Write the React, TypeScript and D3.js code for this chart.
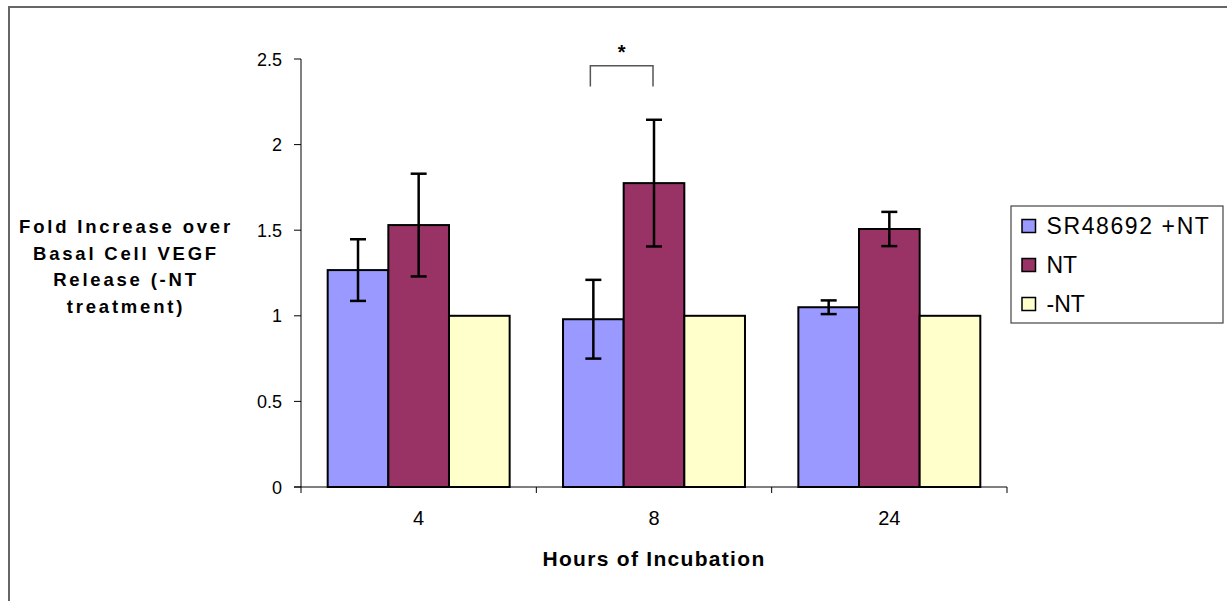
import React from "react";
import * as d3 from "d3";

const categories = ["4", "8", "24"];
const seriesNames = ["SR48692 +NT", "NT", "-NT"];
const seriesColors = ["#9999FF", "#993366", "#FFFFCC"];
const sr48692Values = [1.267, 0.98, 1.05];
const sr48692Errors = [0.18, 0.23, 0.04];
const ntValues = [1.53, 1.775, 1.507];
const ntErrors = [0.3, 0.37, 0.1];
const minusNtValues = [1.0, 1.0, 1.0];
const minusNtErrors = [0, 0, 0];
const yTicks = [0, 0.5, 1, 1.5, 2, 2.5];
const yTitleLines = ["Fold Increase over", "Basal Cell VEGF", "Release (-NT", "treatment)"];
const xTitle = "Hours of Incubation";
const sigCategory = "8";
const sigFrom = "SR48692 +NT";
const sigTo = "NT";
const sigTop = 2.46;
const sigLeg = 2.34;
const sigStarValue = 2.57;

const values = [sr48692Values, ntValues, minusNtValues];
const errors = [sr48692Errors, ntErrors, minusNtErrors];

const FONT = "'Liberation Sans', Arial, sans-serif";

export default function App() {
  const W = 1227;
  const H = 601;
  const x0 = d3.scaleBand<string>().domain(categories).range([301, 1007]).padding(0);
  const x1 = d3
    .scaleBand<string>()
    .domain(seriesNames)
    .range([0, x0.bandwidth()])
    .paddingInner(0)
    .paddingOuter(0.44);
  const y = d3.scaleLinear().domain([0, 2.5]).range([487, 59]);

  const bars: any[] = [];
  const errs: any[] = [];
  categories.forEach((c, ci) => {
    seriesNames.forEach((s, si) => {
      const v = values[si][ci];
      const e = errors[si][ci];
      const bx = (x0(c) as number) + (x1(s) as number);
      bars.push(
        <rect
          key={`b-${ci}-${si}`}
          x={bx}
          y={y(v)}
          width={x1.bandwidth()}
          height={y(0) - y(v)}
          fill={seriesColors[si]}
          stroke="#000"
          strokeWidth={2}
        />
      );
      if (e > 0) {
        const cx = bx + x1.bandwidth() / 2;
        errs.push(
          <g key={`e-${ci}-${si}`} stroke="#000" strokeWidth={2.5}>
            <line x1={cx} x2={cx} y1={y(v + e)} y2={y(v - e)} />
            <line x1={cx - 8} x2={cx + 8} y1={y(v + e)} y2={y(v + e)} />
            <line x1={cx - 8} x2={cx + 8} y1={y(v - e)} y2={y(v - e)} />
          </g>
        );
      }
    });
  });

  const sx1 = (x0(sigCategory) as number) + (x1(sigFrom) as number) + x1.bandwidth() / 2 - 3;
  const sx2 = (x0(sigCategory) as number) + (x1(sigTo) as number) + x1.bandwidth() / 2 - 1;

  const plotLeft = x0.range()[0];
  const plotRight = x0.range()[1];

  return (
    <svg
      width={W}
      height={H}
      style={{ position: "fixed", left: 0, top: 0, background: "#fff" }}
      fontFamily={FONT}
    >
      <rect x={0} y={0} width={W} height={H} fill="#fff" />
      <rect x={9} y={7} width={W + 20} height={H + 20} fill="none" stroke="#666" strokeWidth={2} />

      {bars}
      {errs}

      {/* y axis */}
      <line x1={plotLeft} x2={plotLeft} y1={y(2.5)} y2={y(0)} stroke="#000" strokeWidth={1} />
      {yTicks.map((t) => (
        <g key={`yt-${t}`}>
          <line x1={plotLeft - 7} x2={plotLeft} y1={y(t)} y2={y(t)} stroke="#000" strokeWidth={1} />
          <text x={plotLeft - 19} y={y(t) + 6.5} textAnchor="end" fontSize={18} fill="#000">
            {t}
          </text>
        </g>
      ))}

      {/* x axis */}
      <line x1={plotLeft - 7} x2={plotRight} y1={y(0)} y2={y(0)} stroke="#000" strokeWidth={1} />
      {categories.map((c) => (
        <g key={`xt-${c}`}>
          <line
            x1={(x0(c) as number) + x0.bandwidth()}
            x2={(x0(c) as number) + x0.bandwidth()}
            y1={y(0)}
            y2={y(0) + 6}
            stroke="#000"
            strokeWidth={1}
          />
          <text
            x={(x0(c) as number) + x0.bandwidth() / 2}
            y={y(0) + 37.5}
            textAnchor="middle"
            fontSize={20}
            fill="#000"
          >
            {c}
          </text>
        </g>
      ))}
      <line x1={plotLeft} x2={plotLeft} y1={y(0)} y2={y(0) + 6} stroke="#000" strokeWidth={1} />

      {/* x title */}
      <text
        x={(plotLeft + plotRight) / 2}
        y={566}
        textAnchor="middle"
        fontSize={21}
        fontWeight="bold"
        letterSpacing={1.3}
        fill="#000"
      >
        {xTitle}
      </text>

      {/* y title */}
      {yTitleLines.map((l, i) => (
        <text
          key={`yl-${i}`}
          x={126}
          y={233 + i * 26.7}
          textAnchor="middle"
          fontSize={18.5}
          fontWeight="bold"
          letterSpacing={2.8}
          fill="#000"
        >
          {l}
        </text>
      ))}

      {/* significance bracket */}
      <path
        d={`M${sx1},${y(sigLeg)} V${y(sigTop)} H${sx2} V${y(sigLeg)}`}
        fill="none"
        stroke="#555"
        strokeWidth={1.5}
      />
      <text x={(sx1 + sx2) / 2} y={y(sigStarValue) + 12} textAnchor="middle" fontSize={20} fontWeight="bold" fill="#000">
        *
      </text>

      {/* legend */}
      <rect x={1011} y={206} width={212} height={117} fill="#fff" stroke="#444" strokeWidth={1.2} />
      {seriesNames.map((s, i) => (
        <g key={`lg-${s}`}>
          <rect
            x={1022}
            y={219.5 + i * 39}
            width={13.5}
            height={13}
            fill={seriesColors[i]}
            stroke="#000"
            strokeWidth={1.5}
          />
          <text
            x={1046.5}
            y={233.5 + i * 39}
            fontSize={23}
            fill="#000"
            letterSpacing={i === 0 ? 1.6 : 0}
          >
            {s}
          </text>
        </g>
      ))}
    </svg>
  );
}
